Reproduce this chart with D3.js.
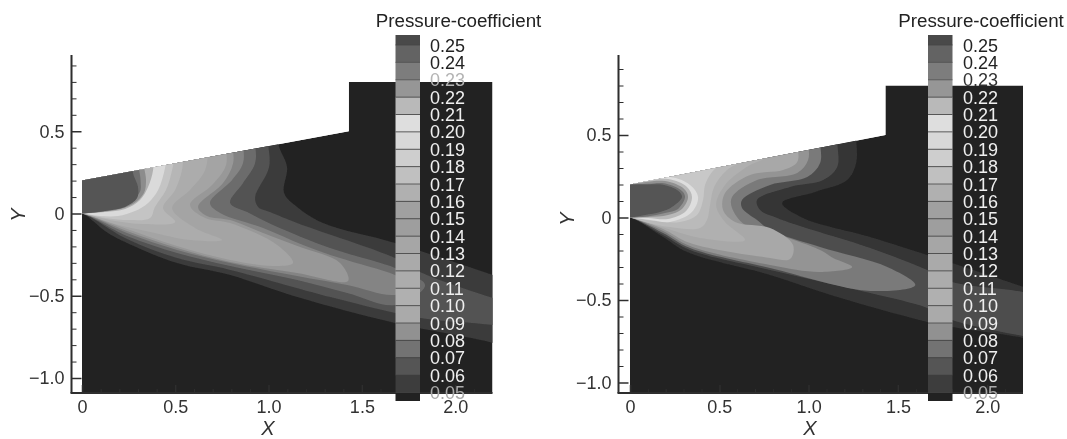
<!DOCTYPE html>
<html><head><meta charset="utf-8">
<script src="https://cdn.jsdelivr.net/npm/d3@7"></script>
<style>html,body{margin:0;padding:0;background:#fff;overflow:hidden}text{font-family:"Liberation Sans",Arial,sans-serif}</style>
</head><body><svg id="chart" width="1067" height="439"></svg>
<script>
// ---------- data (x, y in chart units; c = grey level of the band) ----------
const legendLevels = [0.25,0.24,0.23,0.22,0.21,0.20,0.19,0.18,0.17,0.16,0.15,0.14,0.13,0.12,0.11,0.10,0.09,0.08,0.07,0.06,0.05];
const legendGreys = [74,100,125,150,185,222,216,206,192,176,160,158,166,170,172,176,170,145,115,85,60,36];
const majorX = [0,0.5,1.0,1.5,2.0];
const minorX = [0.1,0.2,0.3,0.4,0.6,0.7,0.8,0.9,1.1,1.2,1.3,1.4,1.6,1.7,1.8,1.9,2.1];
const majorY = [0.5,0,-0.5,-1.0];
const minorY = [0.9,0.8,0.7,0.6,0.4,0.3,0.2,0.1,-0.1,-0.2,-0.3,-0.4,-0.6,-0.7,-0.8,-0.9];
const wallOutline = [[0,0.2],[1.43,0.5],[1.43,0.8],[2.2,0.8],[2.2,-1.2],[0,-1.2]];

const leftBands = [
 {c:58,pts:[[1.05,.7],[1.051,.429],[1.099,.283],[1.083,.125],[1.153,.04],[1.292,-.058],[1.678,-.179],[2.204,-.374],[2.35,-.43],[2.35,-.84],[2.204,-.787],[1.678,-.666],[1.153,-.508],[.794,-.374],[.509,-.301],[.241,-.179],[.139,-.119],[0,0]]},
 {c:82,pts:[[.997,.7],[.997,.447],[1.003,.283],[.928,.10],[.944,.04],[1.008,.009],[1.153,-.058],[1.678,-.271],[1.812,-.356],[2.204,-.514],[2.35,-.556],[2.35,-.66],[2.027,-.66],[1.812,-.635],[1.678,-.605],[1.33,-.508],[.794,-.343],[.509,-.271],[.241,-.155],[0,0]]},
 {c:108,pts:[[.928,.7],[.928,.447],[.928,.307],[.863,.185],[.794,.064],[.885,.009],[1.024,-.07],[1.33,-.21],[1.582,-.295],[1.678,-.331],[1.839,-.435],[1.678,-.556],[1.421,-.483],[1.153,-.404],[.794,-.319],[.509,-.24],[.241,-.137],[0,0]]},
 {c:132,pts:[[.863,.7],[.863,.447],[.863,.307],[.804,.204],[.686,.064],[.74,.003],[.971,-.088],[1.185,-.191],[1.383,-.271],[1.678,-.374],[1.786,-.435],[1.678,-.495],[1.421,-.435],[1.153,-.38],[.794,-.301],[.509,-.222],[.241,-.119],[0,0]]},
 {c:152,pts:[[.804,.7],[.804,.447],[.81,.307],[.756,.185],[.622,.04],[.67,-.015],[.794,-.04],[.971,-.119],[1.169,-.204],[1.383,-.301],[1.426,-.41],[1.153,-.362],[.794,-.295],[.509,-.21],[.241,-.106],[0,0]]},
 {c:164,pts:[[.767,.7],[.767,.447],[.772,.295],[.697,.173],[.579,.052],[.66,-.027],[.794,-.058],[1.046,-.191],[1.131,-.301],[1.024,-.319],[.794,-.283],[.509,-.198],[.241,-.094],[0,0]]},
 {c:172,pts:[[.676,.7],[.676,.416],[.66,.264],[.579,.143],[.483,.033],[.606,-.088],[.751,-.161],[.579,-.161],[.365,-.112],[.177,-.064],[0,0]]},
 {c:182,pts:[[.542,.7],[.542,.386],[.536,.264],[.499,.143],[.434,.033],[.499,-.052],[.327,-.064],[.177,-.046],[0,0]]},
 {c:196,pts:[[.499,.7],[.499,.386],[.483,.264],[.45,.143],[.391,.04],[.365,-.027],[.257,-.04],[.123,-.027],[0,0]]},
 {c:218,pts:[[.456,.7],[.456,.386],[.445,.277],[.408,.143],[.354,.064],[.284,.015],[.193,-.015],[.097,-.015],[0,0]]},
 {c:176,pts:[[.381,.7],[.381,.386],[.381,.264],[.354,.161],[.311,.082],[.231,.027],[.123,.009],[0,0]]},
 {c:140,pts:[[.327,.7],[.327,.325],[.343,.204],[.332,.125],[.273,.058],[.177,.021],[0,0]]},
 {c:110,pts:[[.30,.7],[.30,.325],[.314,.2],[.31,.13],[.255,.07],[.16,.024],[0,0]]},
 {c:84,pts:[[.273,.7],[.273,.325],[.273,.246],[.30,.161],[.295,.094],[.231,.04],[.123,.015],[0,0]]}
];
const rightBands = [
 {c:52,pts:[[1.266,.7],[1.266,.5],[1.266,.33],[1.216,.227],[1.036,.155],[.852,.088],[.969,-.003],[1.345,-.118],[1.664,-.227],[1.804,-.276],[2.202,-.421],[2.353,-.476],[2.353,-.773],[2.202,-.73],[1.804,-.664],[1.664,-.633],[1.16,-.482],[.784,-.348],[.319,-.209],[.185,-.118],[0,0]]},
 {c:78,pts:[[1.16,.7],[1.16,.47],[1.16,.306],[1.081,.227],[.896,.185],[.711,.106],[.728,.045],[.824,-.003],[.969,-.058],[1.345,-.185],[1.664,-.318],[1.804,-.391],[2.202,-.452],[2.353,-.5],[2.353,-.74],[2.202,-.718],[1.804,-.621],[1.664,-.548],[1.345,-.458],[.784,-.318],[.336,-.197],[.185,-.106],[0,0]]},
 {c:122,pts:[[1.064,.7],[1.064,.47],[1.064,.33],[.992,.245],[.784,.197],[.627,.106],[.627,.058],[.711,-.015],[.784,-.076],[1.064,-.179],[1.44,-.3],[1.597,-.409],[1.345,-.445],[.784,-.306],[.336,-.185],[.185,-.094],[0,0]]},
 {c:148,pts:[[.997,.7],[.997,.47],[.997,.348],[.936,.27],[.711,.227],[.571,.124],[.571,.058],[.644,-.045],[.784,-.088],[1.064,-.197],[1.137,-.245],[1.244,-.3],[1.064,-.33],[.784,-.288],[.336,-.173],[.185,-.082],[0,0]]},
 {c:168,pts:[[.936,.7],[.936,.47],[.936,.336],[.857,.288],[.672,.258],[.532,.148],[.521,.045],[.588,-.027],[.784,-.064],[.913,-.167],[.896,-.252],[.784,-.245],[.336,-.155],[.185,-.07],[0,0]]},
 {c:176,pts:[[.812,.7],[.812,.409],[.644,.3],[.532,.197],[.482,.076],[.532,-.027],[.644,-.136],[.392,-.124],[.196,-.064],[0,0]]},
 {c:186,pts:[[.728,.7],[.728,.409],[.543,.288],[.471,.185],[.448,.076],[.431,-.015],[.392,-.064],[.224,-.058],[.084,-.027],[0,0]]},
 {c:200,pts:[[.56,.7],[.56,.379],[.459,.276],[.42,.197],[.409,.106],[.375,.015],[.28,-.027],[.14,-.021],[0,0]]},
 {c:222,pts:[[.011,.215],[.224,.245],[.336,.197],[.381,.124],[.347,.033],[.224,-.027],[.112,-.015],[0,0]]},
 {c:185,pts:[[.006,.209],[.213,.233],[.319,.185],[.347,.124],[.314,.039],[.213,-.009],[.101,-.003],[0,0]]},
 {c:145,pts:[[0,.204],[.196,.221],[.303,.173],[.325,.124],[.291,.052],[.213,.015],[.101,.003],[0,0]]},
 {c:112,pts:[[0,.201],[.1,.204],[.19,.207],[.291,.161],[.308,.124],[.269,.052],[.196,.027],[.095,.006],[0,0]]},
 {c:84,pts:[[0,.2],[.1,.2],[.185,.198],[.269,.162],[.291,.124],[.235,.064],[.168,.033],[.084,.015],[0,0]]}
];

// ---------- panel layout ----------
const panels = [
 {id:"a",bands:leftBands, xPx:[82,492.5], yPx:[213.5,131.25], axisLeft:71.5, xLabel:268, yLabel:19, legendX:395.5, labelX:430, titleX:458.5, inks:{0.25:"#222",0.24:"#222",0.23:"#b4b4b4",0.05:"#a8a8a8"}},
 {id:"b",bands:rightBands,xPx:[630,1023], yPx:[217.5,135],    axisLeft:618.5,xLabel:810, yLabel:568, legendX:928, labelX:963, titleX:981, inks:{0.25:"#222",0.24:"#222",0.23:"#333",0.05:"#a8a8a8"}}
];
const grey = c => d3.rgb(c,c,c).formatHex();
const svg = d3.select("#chart");
svg.append("defs").append("filter").attr("id","soft").attr("filterUnits","userSpaceOnUse")
  .attr("x",0).attr("y",0).attr("width",1067).attr("height",439)
  .append("feGaussianBlur").attr("stdDeviation",0.65);
const root = svg.append("g").attr("filter","url(#soft)");
const minus = s => s.replace("-","\u2212");

panels.forEach(p=>{
  const x = d3.scaleLinear().domain([0,2.2]).range(p.xPx);
  const y = d3.scaleLinear().domain([0,0.5]).range(p.yPx);
  const bottomPx = 393, topPx = 55;
  const g = root.append("g");
  const clipId = "clip-"+p.id;
  const outline = d3.line().x(d=>x(d[0])).y(d=>Math.min(y(d[1]),bottomPx));
  svg.select("defs").append("clipPath").attr("id",clipId).append("path").attr("d",outline(wallOutline)+"Z");
  const field = g.append("g").attr("clip-path",`url(#${clipId})`);
  field.append("path").attr("d",outline(wallOutline)+"Z").attr("fill","#232323");
  const curve = d3.line().x(d=>x(d[0])).y(d=>y(d[1])).curve(d3.curveCatmullRomClosed.alpha(0.5));
  field.selectAll("path.band").data(p.bands).join("path").attr("class","band")
    .attr("d",b=>curve(b.pts.concat([[-.06,0],[-.06,b.pts[0][1]]])))
    .attr("fill",b=>grey(b.c));

  // axes
  const style = (sel,w)=>{sel.selectAll(".domain").remove();sel.selectAll("line").attr("stroke","#2e2e2e").attr("stroke-width",w);
     sel.selectAll("text").attr("fill","#333").attr("font-size",18).attr("font-family",'"Liberation Sans",Arial,sans-serif');};
  const ax = g.append("g").attr("transform",`translate(0,${bottomPx})`);
  ax.append("g").call(d3.axisBottom(x).tickValues(minorX).tickSize(-4).tickFormat("")).call(style,1);
  ax.append("g").call(d3.axisBottom(x).tickValues(majorX).tickSize(-8).tickPadding(7)
     .tickFormat(d=>d===0?"0":d3.format(".1f")(d))).call(style,1.5);
  const ay = g.append("g").attr("transform",`translate(${p.axisLeft},0)`);
  ay.append("g").call(d3.axisLeft(y).tickValues(minorY).tickSize(-5).tickFormat("")).call(style,1);
  ay.append("g").call(d3.axisLeft(y).tickValues(majorY).tickSize(-10).tickPadding(7)
     .tickFormat(d=>d===0?"0":minus(d3.format(".1f")(d)))).call(style,1.5);
  g.append("line").attr("x1",p.axisLeft).attr("x2",p.axisLeft).attr("y1",topPx).attr("y2",bottomPx).attr("stroke","#2e2e2e").attr("stroke-width",2);
  g.append("line").attr("x1",p.axisLeft-1).attr("x2",x(2.2)).attr("y1",bottomPx).attr("y2",bottomPx).attr("stroke","#2e2e2e").attr("stroke-width",2);
  g.append("text").text("X").attr("x",p.xLabel).attr("y",434.5).attr("text-anchor","middle").attr("font-size",20).attr("font-style","italic").attr("fill","#333");
  g.append("text").text("Y").attr("transform",`translate(${p.yLabel+6},${y(0)+1.5}) rotate(-90)`).attr("text-anchor","middle").attr("font-size",20).attr("font-style","italic").attr("fill","#333");

  // legend
  const ly = d3.scaleLinear().domain([0.25,0.05]).range([45,392.5]);
  const edges = [35].concat(legendLevels.map(ly),[401]);
  const lg = g.append("g");
  lg.selectAll("rect").data(legendGreys).join("rect")
    .attr("x",p.legendX).attr("width",24.5).attr("y",(d,i)=>edges[i]).attr("height",(d,i)=>edges[i+1]-edges[i]).attr("fill",d=>grey(d));
  lg.selectAll("line").data(legendLevels).join("line")
    .attr("x1",p.legendX).attr("x2",p.legendX+24.5).attr("y1",ly).attr("y2",ly).attr("stroke","#444").attr("stroke-width",0.8);
  lg.selectAll("text").data(legendLevels).join("text")
    .attr("x",p.labelX).attr("y",d=>ly(d)+6.5).attr("font-size",18)
    .attr("fill",d=>p.inks[d]||"#efefef").text(d=>d3.format(".2f")(d));
  g.append("text").text("Pressure-coefficient").attr("x",p.titleX).attr("y",27).attr("text-anchor","middle").attr("font-size",18.8).attr("fill","#222");
});
</script></body></html>
